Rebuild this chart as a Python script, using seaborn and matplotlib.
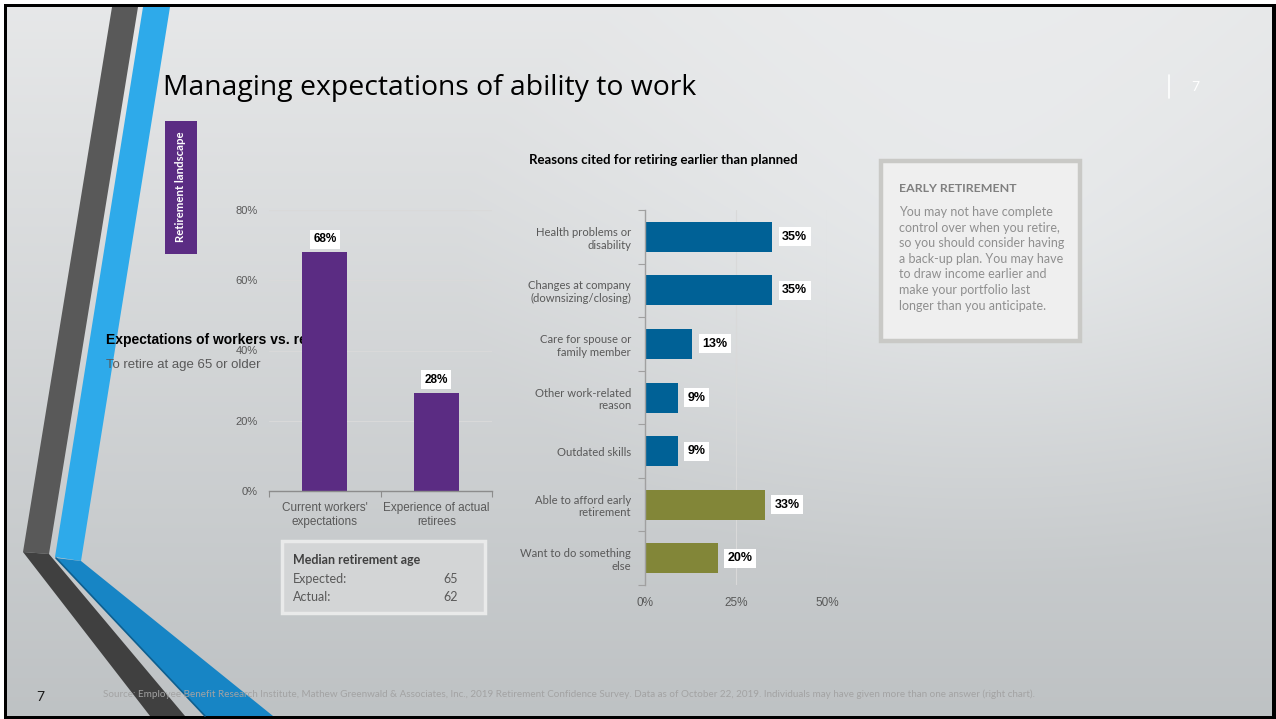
import numpy as np
import pandas as pd
import matplotlib
matplotlib.use("Agg")
import matplotlib.pyplot as plt
from matplotlib.patches import Polygon, Rectangle
from matplotlib.transforms import Bbox, TransformedBbox
import seaborn as sns

# ---------------- data ----------------
age_categories = ["Current workers'\nexpectations", "Experience of actual\nretirees"]
age_values = [68, 28]
age_ticks = [0, 20, 40, 60, 80]

reason_categories = [
    "Health problems or\ndisability",
    "Changes at company\n(downsizing/closing)",
    "Care for spouse or\nfamily member",
    "Other work-related\nreason",
    "Outdated skills",
    "Able to afford early\nretirement",
    "Want to do something\nelse",
]
reason_values = [35, 35, 13, 9, 9, 33, 20]
reason_groups = ["Circumstance"] * 5 + ["Choice"] * 2
reason_ticks = [0, 25, 50]

median_labels = ["Expected:", "Actual:"]
median_ages = [65, 62]

# ---------------- colours / fonts ----------------
PURPLE = "#5b2c83"
BLUE = "#006196"
OLIVE = "#828638"
TICK_GRAY = "#595959"
SANS = ["Liberation Sans", "DejaVu Sans"]
CAL = ["Lato", "DejaVu Sans"]

W, H = 1276, 719
sns.set_theme(style="white")
plt.rcParams["font.family"] = SANS

fig = plt.figure(figsize=(W / 100, H / 100), dpi=100, facecolor="white")

# full-slide canvas in pixel coordinates
bg = fig.add_axes([0, 0, 1, 1], zorder=0)
bg.set_xlim(0, W)
bg.set_ylim(H, 0)
bg.axis("off")

bg.add_patch(Rectangle((4, 4), W - 4, H - 4, facecolor="black", edgecolor="none", zorder=0))

# slide background: vertical shading with a soft light area on the right
xs = np.arange(7, 1272)
ys = np.arange(7, 716)
X, Y = np.meshgrid(xs, ys)
t = (Y / H)[..., None]
top = np.array([0.905, 0.910, 0.914])
bottom = np.array([0.745, 0.760, 0.768])
shade = top * (1 - t) + bottom * t
d = np.sqrt(((X - 980) / 520.0) ** 2 + ((Y - 250) / 330.0) ** 2)
glow = np.clip(1 - d, 0, 1)[..., None] * 0.055
img = np.clip(shade + glow, 0, 1)
bg.imshow(img, extent=(7, 1272, 716, 7), aspect="auto", interpolation="bilinear", zorder=1)

# decorative stripes
stripes = [
    ([(112, 7), (138, 7), (49, 554), (23, 552)], "#595959"),
    ([(23, 552), (49, 554), (185, 716), (150, 716)], "#404040"),
    ([(143, 7), (170, 7), (81, 561), (55, 557)], "#2eaaea"),
    ([(56, 558), (81, 561), (273, 716), (205, 716)], "#1785c5"),
]
for pts, col in stripes:
    bg.add_patch(Polygon(pts, closed=True, facecolor=col, edgecolor="none", zorder=2))
bg.add_line(plt.Line2D([56, 205], [558, 716], color="#0e5f8f", lw=1.2, zorder=2))

# title and header items
bg.text(163, 88, "Managing expectations of ability to work", fontsize=20.4,
        family=["Open Sans", "DejaVu Sans"], color="black", va="center", ha="left", zorder=5)
bg.add_line(plt.Line2D([1169, 1169], [75, 98], color="white", lw=1.2, zorder=5))
bg.text(1195, 87, "7", fontsize=10, color="white", family=CAL, va="center", ha="center", zorder=5)

# section tab
bg.add_patch(Rectangle((165, 121), 32, 133, facecolor=PURPLE, edgecolor="none", zorder=4))
bg.text(181, 187, "Retirement landscape", rotation=90, color="white", fontsize=8.2,
        fontweight="bold", family=CAL, ha="center", va="center", zorder=5)

# left chart heading (partly hidden behind the first bar)
head = bg.text(106, 340, "Expectations of workers vs. retirees", fontsize=10, fontweight="bold",
               color="black", va="center", ha="left", zorder=5, clip_on=True)
head.set_clip_box(TransformedBbox(Bbox([[0, 0], [303, H]]), bg.transData))
bg.text(106, 365, "To retire at age 65 or older", fontsize=9.5, color=TICK_GRAY,
        va="center", ha="left", zorder=5)

# median retirement age box
bg.add_patch(Rectangle((282, 541), 203, 72, facecolor="#d3d5d6", edgecolor="#e9eaea",
                       lw=2.5, zorder=4))
bg.text(293, 560, "Median retirement age", fontsize=9, fontweight="bold", color="#404040",
        family=CAL, va="center", ha="left", zorder=5)
for i, (lab, age) in enumerate(zip(median_labels, median_ages)):
    yy = 579 + i * 18
    bg.text(293, yy, lab, fontsize=9, color=TICK_GRAY, family=CAL, va="center", ha="left", zorder=5)
    bg.text(458, yy, str(age), fontsize=9, color=TICK_GRAY, family=CAL, va="center", ha="right", zorder=5)

# right chart heading
bg.text(663, 160, "Reasons cited for retiring earlier than planned", fontsize=9.5,
        fontweight="bold", color="black", family=CAL, ha="center", va="center", zorder=5)

# early retirement note
bg.add_patch(Rectangle((881, 161), 199, 180, facecolor="#efefef", edgecolor="#c9c9c6",
                       lw=3.2, zorder=4))
bg.text(899, 188, "EARLY RETIREMENT", fontsize=8.9, fontweight="bold", color="#7f7f7f",
        family=CAL, ha="left", va="center", zorder=5)
bg.text(899, 206,
        "You may not have complete\ncontrol over when you retire,\nso you should consider having\n"
        "a back-up plan. You may have\nto draw income earlier and\nmake your portfolio last\n"
        "longer than you anticipate.",
        fontsize=9, color="#8f8f8f", family=CAL, ha="left", va="top", linespacing=1.36, zorder=5)

# footer
bg.text(40, 697, "7", fontsize=10, color="#1a1a1a", family=CAL, ha="center", va="center", zorder=5)
bg.text(103, 694,
        "Source: Employee Benefit Research Institute, Mathew Greenwald & Associates, Inc., 2019 "
        "Retirement Confidence Survey. Data as of October 22, 2019. Individuals may have given more "
        "than one answer (right chart).",
        fontsize=7.15, color="#a3a3a3", family=CAL, ha="left", va="center", zorder=5)

# ---------------- left chart ----------------
ax1 = fig.add_axes([269 / W, (H - 491) / H, 223 / W, 281 / H], zorder=2)
ax1.patch.set_alpha(0)
sns.barplot(x=age_categories, y=age_values, color=PURPLE, width=0.4, saturation=1,
            edgecolor="none", linewidth=0, ax=ax1)
ax1.set_xlim(-0.5, 1.5)
ax1.set_ylim(0, 80)
ax1.set_yticks(age_ticks)
ax1.set_yticklabels([f"{v}%" for v in age_ticks])
ax1.set_xlabel("")
ax1.set_ylabel("")
ax1.yaxis.grid(True, color="#d9d9d9", lw=0.8)
ax1.set_axisbelow(True)
for s in ["left", "right", "top"]:
    ax1.spines[s].set_visible(False)
ax1.spines["bottom"].set_color("#8c8c8c")
ax1.spines["bottom"].set_linewidth(1)
ax1.set_xticks([-0.5, 0.5, 1.5], minor=True)
ax1.tick_params(axis="x", which="minor", bottom=True, length=4, width=0.8, color="#8c8c8c")
ax1.tick_params(axis="x", which="major", length=0, pad=8, labelsize=8.5, labelcolor=TICK_GRAY)
ax1.tick_params(axis="y", length=0, pad=8, labelsize=8, labelcolor=TICK_GRAY)
ax1.bar_label(ax1.containers[0], fmt="{:.0f}%", padding=5, fontsize=8.5, fontweight="bold",
              color="black", bbox=dict(facecolor="white", edgecolor="none", pad=2.5))

# ---------------- right chart ----------------
reasons = pd.DataFrame({"reason": reason_categories, "value": reason_values, "group": reason_groups})
ax2 = fig.add_axes([645 / W, (H - 585) / H, 182 / W, 375 / H], zorder=2)
ax2.patch.set_alpha(0)
sns.barplot(data=reasons, x="value", y="reason", hue="group",
            palette={"Circumstance": BLUE, "Choice": OLIVE}, dodge=False, width=0.56,
            saturation=1, legend=False, orient="h", edgecolor="none", linewidth=0, ax=ax2)
ax2.set_xlim(0, 50)
ax2.set_ylim(6.5, -0.5)
ax2.set_xticks(reason_ticks)
ax2.set_xticklabels([f"{v}%" for v in reason_ticks])
ax2.set_xlabel("")
ax2.set_ylabel("")
ax2.xaxis.grid(True, color="#d9d9d9", lw=0.8)
ax2.set_axisbelow(True)
for s in ["bottom", "right", "top"]:
    ax2.spines[s].set_visible(False)
ax2.spines["left"].set_color("#a0a0a0")
ax2.spines["left"].set_linewidth(1)
ax2.set_yticks(np.arange(-0.5, 7, 1), minor=True)
ax2.tick_params(axis="y", which="minor", left=True, length=5, width=0.8, color="#a0a0a0")
ax2.tick_params(axis="y", which="major", length=0, pad=10, labelsize=8.1, labelcolor=TICK_GRAY)
ax2.tick_params(axis="x", length=0, pad=9, labelsize=8.5, labelcolor=TICK_GRAY)
for lab in ax2.get_yticklabels():
    lab.set_family(CAL)
for cont in ax2.containers:
    ax2.bar_label(cont, fmt="{:.0f}%", padding=7, fontsize=9, fontweight="bold",
                  color="black", bbox=dict(facecolor="white", edgecolor="none", pad=2.5))

fig.savefig("out.png", dpi=100, facecolor="white")
